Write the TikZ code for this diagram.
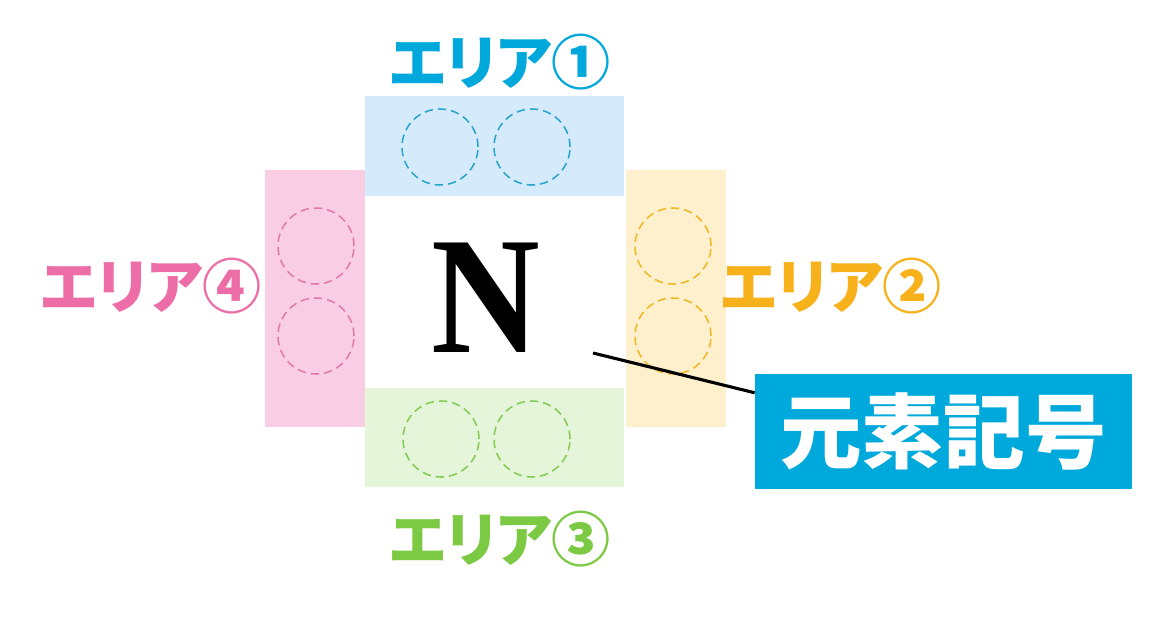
\documentclass[tikz,border=0pt]{standalone}
\usepackage{fontspec}
\usetikzlibrary{calc}
\newfontfamily\jpfont[RawFeature=+palt]{Noto Sans CJK JP}
\newfontfamily\nfont{Liberation Serif}
\definecolor{bluetext}{HTML}{00A8DB}
\definecolor{bluefill}{HTML}{D5EBFB}
\definecolor{bluedash}{HTML}{2AA5CF}
\definecolor{orangetext}{HTML}{F6B11B}
\definecolor{orangefill}{HTML}{FFF0CD}
\definecolor{orangedash}{HTML}{F2B824}
\definecolor{greentext}{HTML}{7CC944}
\definecolor{greenfill}{HTML}{E4F5D9}
\definecolor{greendash}{HTML}{86CB55}
\definecolor{pinktext}{HTML}{ED6EA7}
\definecolor{pinkfill}{HTML}{F9CDE4}
\definecolor{pinkdash}{HTML}{E27AA9}
\definecolor{kigobox}{HTML}{00A9DB}
\begin{document}
\begin{tikzpicture}[
    slot/.style={dash pattern=on 6pt off 3.5pt, line width=1.1pt},
    arealabel/.style={inner sep=0pt, font=\jpfont\bfseries\fontsize{42}{42}\selectfont}]
        \useasboundingbox (0,0) rectangle (29,15.4);
        \fill[bluefill] (9.125,10.5) rectangle (15.6,13);
        \fill[orangefill] (15.65,4.725) rectangle (18.15,11.15);
        \fill[greenfill] (9.125,3.225) rectangle (15.6,5.7);
        \fill[pinkfill] (6.625,4.725) rectangle (9.125,11.15);
        \draw[slot, draw=bluedash] (11,11.725) circle (0.95);
        \draw[slot, draw=bluedash] (13.3,11.725) circle (0.95);
        \draw[slot, draw=orangedash] (16.825,9.25) circle (0.95);
        \draw[slot, draw=orangedash] (16.825,7) circle (0.95);
        \draw[slot, draw=greendash] (11.025,4.425) circle (0.95);
        \draw[slot, draw=greendash] (13.3,4.425) circle (0.95);
        \draw[slot, draw=pinkdash] (7.9,9.25) circle (0.95);
        \draw[slot, draw=pinkdash] (7.9,7) circle (0.95);
        \node[arealabel, text=bluetext] (area1) at (12.5,13.85) {エリア①};
        \node[arealabel, text=orangetext] (area2) at (20.775,8.25) {エリア②};
        \node[arealabel, text=greentext] (area3) at (12.5,1.925) {エリア③};
        \node[arealabel, text=pinktext] (area4) at (3.775,8.25) {エリア④};
        \node[inner sep=0pt, xscale=0.9, font=\nfont\bfseries\fontsize{119}{119}\selectfont] (symbol) at (12.15,7.95) {N};
        \node[fill=kigobox, text=white, inner sep=0pt, minimum width=9.425cm, minimum height=2.875cm, font=\jpfont\bfseries\fontsize{58}{58}\selectfont] (kigo) at (23.5875,4.6125) {元素記号};
        \coordinate (tip) at (14.825,6.575);
        \draw[line width=2.2pt] (tip) -- ($(kigo.north west)!0.165!(kigo.south west)$);
    \end{tikzpicture}
\end{document}
